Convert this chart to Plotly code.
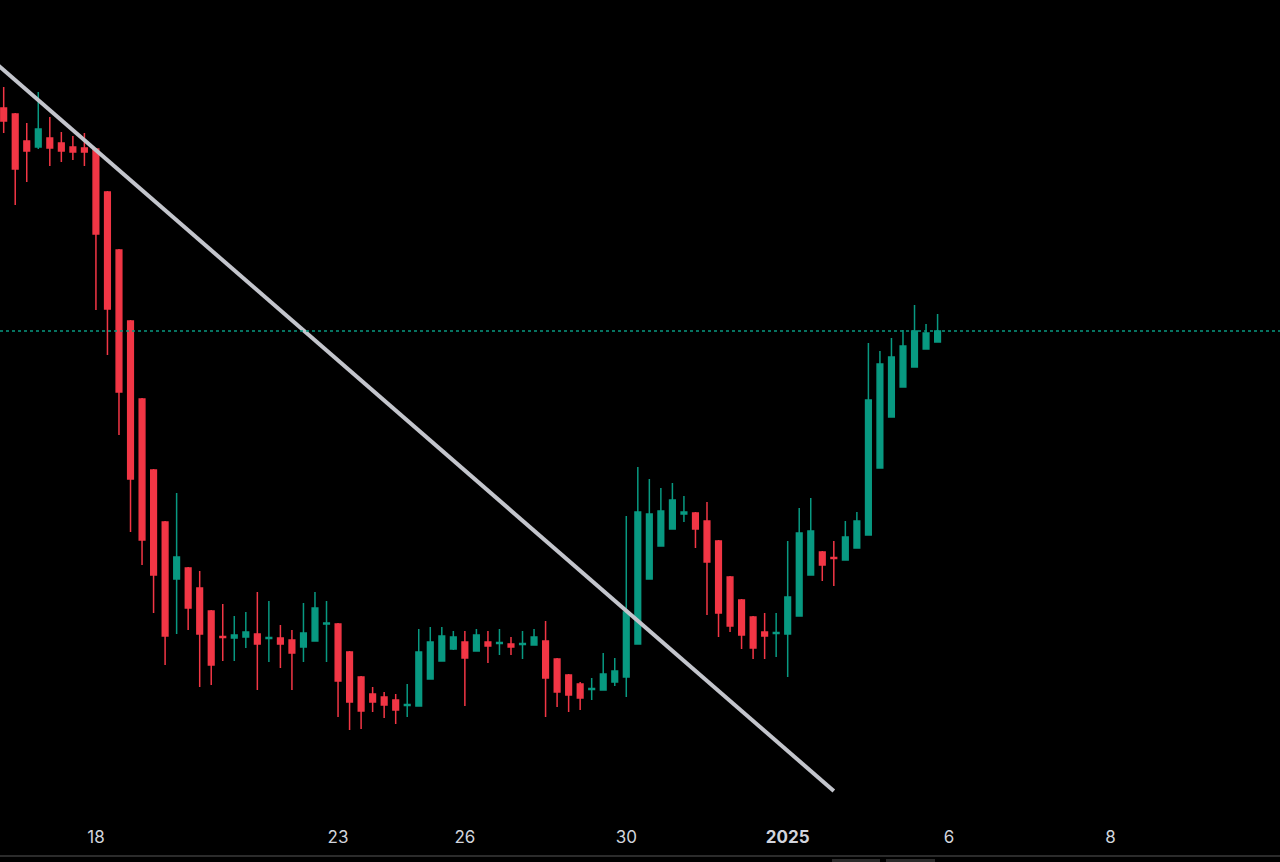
import plotly.graph_objects as go

# Candle data (arbitrary price units; no price axis shown)
opens = [89.2, 88.6, 85.9, 85.3, 86.2, 85.7, 85.3, 85.2, 85.1, 80.8,
         75.0, 67.9, 60.1, 53.0, 47.8, 42.1, 43.2, 41.2, 38.9, 36.35,
         36.2, 36.3, 36.6, 36.15, 36.2, 36.0, 35.3, 35.9, 37.6, 37.6,
         34.8, 32.3, 30.6, 30.3, 30.0, 29.45, 29.4, 32.1, 33.9, 35.1,
         35.8, 34.9, 35.8, 35.65, 35.6, 35.55, 35.5, 35.9, 34.1, 32.5,
         31.6, 31.05, 31.0, 31.8, 32.3, 35.6, 42.1, 45.4, 47.1, 48.6,
         48.7, 47.9, 45.9, 42.3, 40.0, 38.3, 36.8, 36.65, 36.6, 38.4,
         42.5, 44.8, 44.25, 44.0, 45.2, 46.5, 53.2, 58.3, 61.3, 63.3,
         65.1, 65.8]
highs = [91.3, 88.7, 87.7, 90.8, 88.3, 86.8, 86.4, 86.7, 85.2, 80.9,
         75.1, 68.0, 60.2, 53.1, 47.9, 50.7, 43.3, 42.9, 39.0, 39.6,
         38.4, 38.8, 40.8, 39.9, 37.5, 37.0, 39.7, 40.8, 39.9, 37.7,
         34.9, 32.4, 31.3, 30.8, 30.6, 31.6, 37.1, 37.3, 37.3, 36.9,
         36.9, 37.1, 36.9, 37.1, 36.3, 36.9, 37.1, 37.9, 34.2, 32.6,
         31.8, 32.2, 34.7, 34.2, 48.4, 53.3, 52.1, 51.2, 51.7, 50.4,
         48.8, 49.8, 46.0, 42.4, 40.1, 38.4, 38.7, 38.7, 45.9, 49.2,
         50.2, 44.9, 45.9, 47.9, 48.8, 65.7, 64.9, 66.2, 67.0, 69.5,
         67.6, 68.6]
lows = [86.7, 79.5, 81.8, 85.1, 83.4, 83.8, 84.0, 83.4, 69.0, 64.5,
        56.5, 46.8, 43.5, 38.7, 33.5, 36.6, 37.0, 31.3, 31.5, 33.9,
        33.9, 35.2, 31.0, 33.8, 33.2, 31.0, 33.8, 35.9, 33.8, 28.3,
        27.0, 27.1, 28.8, 28.2, 27.6, 28.3, 29.4, 32.1, 33.9, 35.0,
        29.4, 34.9, 33.7, 34.5, 34.5, 34.1, 35.5, 28.3, 29.3, 28.8,
        29.0, 30.0, 31.0, 31.4, 30.3, 35.6, 42.1, 45.4, 47.1, 47.8,
        45.2, 38.5, 36.3, 36.8, 35.1, 34.1, 34.1, 34.3, 32.3, 38.4,
        42.5, 41.9, 41.4, 44.0, 45.2, 46.5, 53.2, 58.3, 61.3, 63.3,
        65.1, 65.8]
closes = [87.9, 83.1, 84.9, 87.1, 85.2, 84.9, 84.8, 84.8, 76.6, 69.1,
          60.8, 52.1, 46.0, 42.5, 36.4, 44.3, 39.2, 36.6, 33.5, 36.25,
          36.5, 36.8, 35.6, 36.25, 35.6, 34.7, 36.7, 39.2, 37.7, 31.9,
          29.8, 28.9, 29.8, 29.5, 29.0, 29.55, 34.8, 35.8, 36.4, 36.3,
          34.2, 36.5, 35.4, 35.75, 35.3, 35.65, 36.3, 32.2, 30.8, 30.5,
          30.2, 31.15, 32.6, 32.9, 38.8, 48.8, 48.6, 48.9, 50.0, 48.8,
          47.1, 43.8, 38.7, 37.4, 36.5, 35.2, 36.4, 36.75, 40.3, 46.7,
          46.9, 43.5, 44.15, 46.3, 47.9, 60.0, 63.6, 64.3, 65.4, 66.9,
          66.7, 66.9]
bar_index = list(range(len(opens)))

# Time-axis labels (bar positions)
tick_positions = [8, 29, 40, 54, 68, 82, 96]
tick_labels = ["18", "23", "26", "30", "<b>2025</b>", "6", "8"]

# Hand-drawn trend line (bar index, price)
trend_x = [-1, 72]
trend_y = [94.0, 20.9]

UP = "#089981"
DOWN = "#f23645"

fig = go.Figure()

fig.add_trace(go.Scatter(
    x=trend_x, y=trend_y, mode="lines",
    line=dict(color="#c3c5cc", width=4),
    hoverinfo="skip", showlegend=False,
))

fig.add_trace(go.Candlestick(
    x=bar_index, open=opens, high=highs, low=lows, close=closes,
    increasing=dict(line=dict(color=UP, width=1.5), fillcolor=UP),
    decreasing=dict(line=dict(color=DOWN, width=1.5), fillcolor=DOWN),
    whiskerwidth=0, showlegend=False,
))

last_close = closes[-1]
fig.add_shape(type="line", xref="paper", x0=0, x1=1, yref="y",
              y0=last_close, y1=last_close,
              line=dict(color=UP, width=1.5, dash="dot"))

# bottom separator line of the time scale
fig.add_shape(type="line", xref="paper", x0=0, x1=1, yref="paper",
              y0=-0.0439, y1=-0.0439,
              line=dict(color="#3a3a3a", width=1.5))

# partially visible UI buttons below the chart
for bx0, bx1 in [(832 / 1280, 880 / 1280), (886 / 1280, 935 / 1280)]:
    fig.add_shape(type="rect", xref="paper", yref="paper",
                  x0=bx0, x1=bx1, y0=-0.0475, y1=-0.07,
                  fillcolor="#2a2a2a", line=dict(width=0))

fig.update_layout(
    width=1280, height=862,
    margin=dict(l=0, r=0, t=0, b=42),
    paper_bgcolor="#000000", plot_bgcolor="#000000",
    font=dict(family="Inter, Roboto, sans-serif", color="#d1d4dc", size=17),
    showlegend=False,
    xaxis=dict(
        range=[-0.32, 110.7], rangeslider=dict(visible=False),
        showgrid=False, zeroline=False, showline=False,
        tickmode="array", tickvals=tick_positions, ticktext=tick_labels,
        ticks="", tickfont=dict(size=17, color="#d1d4dc"),
        ticklabelstandoff=5,
    ),
    yaxis=dict(
        range=[18, 100], showgrid=False, zeroline=False,
        showticklabels=False, showline=False, ticks="",
    ),
)

fig.write_html(
    "out.html",
    config={"displayModeBar": False},
    post_script="document.body.style.margin='0';document.body.style.background='#000';",
)
